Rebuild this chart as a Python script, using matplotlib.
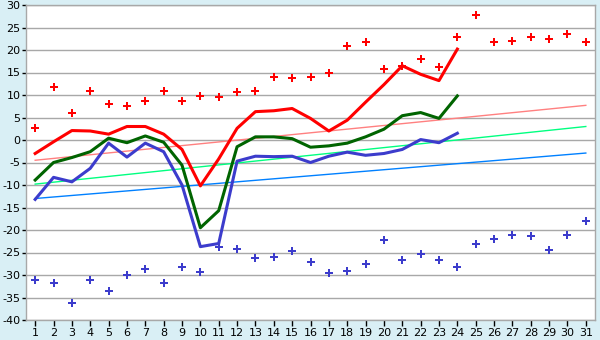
import matplotlib
matplotlib.use("Agg")
import matplotlib.pyplot as plt

plt.rcParams['axes.unicode_minus'] = False

# dias do mes
dias = list(range(1, 32))
dias_linha = list(range(1, 25))

# pontos (maximos e minimos)
pontos_max = [2.6, 11.7, 5.9, 11.0, 7.9, 7.5, 8.6, 11.0, 8.6, 9.7,
              9.5, 10.6, 11.0, 13.9, 13.7, 13.9, 14.8, 20.8, 21.7, 15.7,
              16.4, 17.9, 16.2, 23.0, 27.7, 21.7, 21.9, 23.0, 22.4, 23.5, 21.7]
pontos_min = [-31.0, -31.8, -36.3, -31.0, -33.6, -30.1, -28.7, -31.8, -28.3, -29.4,
              -23.8, -24.3, -26.3, -26.1, -24.7, -27.2, -29.6, -29.2, -27.6, -22.3,
              -26.7, -25.4, -26.7, -28.3, -23.2, -22.1, -21.0, -21.4, -24.5, -21.0, -18.1]

# curvas
curva_vermelha = [-3.0, -0.4, 2.1, 2.0, 1.3, 3.0, 3.0, 1.3, -2.1, -10.2,
                  -4.2, 2.6, 6.3, 6.5, 7.0, 4.8, 2.0, 4.4, 8.4, 12.3,
                  16.5, 14.6, 13.2, 20.2]
curva_verde = [-8.9, -5.0, -3.9, -2.6, 0.4, -0.6, 0.9, -0.5, -5.6, -19.5,
               -15.7, -1.5, 0.7, 0.7, 0.3, -1.6, -1.3, -0.7, 0.7, 2.4,
               5.4, 6.1, 4.8, 9.8]
curva_azul = [-13.2, -8.3, -9.3, -6.3, -0.7, -3.8, -0.7, -2.6, -10.0, -23.7,
              -23.0, -4.7, -3.6, -3.7, -3.6, -5.0, -3.6, -2.7, -3.4, -3.0,
              -2.1, 0.1, -0.6, 1.5]

# tendencias (inicio e fim)
dias_tend = [1, 31]
tend_rosa = [-4.5, 7.7]
tend_verde = [-9.8, 3.0]
tend_azul = [-13.0, -2.9]

fundo = "#d9eff5"
cinza = "#a8a8a8"

fig = plt.figure(figsize=(6, 3.4), dpi=100, facecolor=fundo)
ax = fig.add_axes([26/600, 1-320/340, (595-26)/600, (320-5)/340])
ax.set_facecolor("white")

for y in range(-40, 31, 5):
    ax.axhline(y, color=cinza, lw=1, zorder=0)

ax.plot(dias_tend, tend_rosa, color="#ff8080", lw=1)
ax.plot(dias_tend, tend_verde, color="#00ff80", lw=1)
ax.plot(dias_tend, tend_azul, color="#0080ff", lw=1)

ax.plot(dias_linha, curva_vermelha, color="#ff0000", lw=2.2)
ax.plot(dias_linha, curva_verde, color="#006400", lw=2.2)
ax.plot(dias_linha, curva_azul, color="#3c3ccc", lw=2.2)

ax.plot(dias, pontos_max, ls="none", marker="P", ms=5.5, color="#ff0000", mew=0)
ax.plot(dias, pontos_min, ls="none", marker="P", ms=5.5, color="#3c3ccc", mew=0)

ax.set_xlim(0.5, 31.5)
ax.set_ylim(-40, 30)
ax.set_xticks(dias)
ax.set_yticks(range(-40, 31, 5))
ax.tick_params(axis="x", labelsize=8, color="black", length=4, width=1, pad=2)
ax.tick_params(axis="y", labelsize=8, color="black", length=3, width=1, pad=1)
for s in ax.spines.values():
    s.set_color(cinza)
    s.set_linewidth(1)

fig.savefig("out.png", dpi=100, facecolor=fundo)
